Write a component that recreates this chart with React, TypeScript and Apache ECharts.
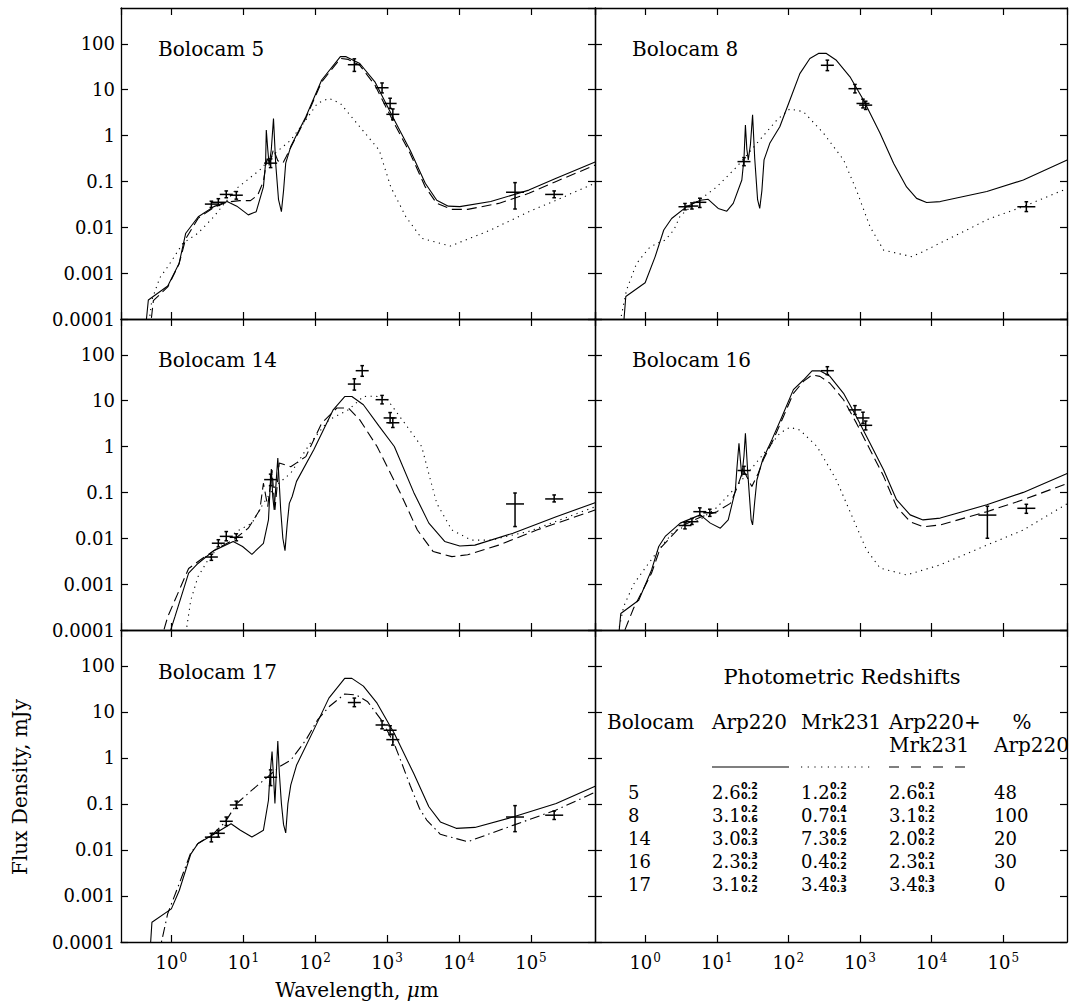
import React, { useEffect, useRef } from "react";
import * as echarts from "echarts";

const SERIF = '"DejaVu Serif", "Liberation Serif", serif';

// Axis ranges (wavelength in µm, flux density in mJy)
const X_MIN = 0.1995; // 10^-0.70
const X_MAX = 776000; // 10^5.89
const Y_MIN = 0.0001;
const Y_MAX = 603; // 10^2.78

const panelNames = ["Bolocam 5", "Bolocam 8", "Bolocam 14", "Bolocam 16", "Bolocam 17"];

// Model curves: [log10 wavelength (µm), log10 flux (mJy)]
const b5Arp = [[-0.365,-4.3],[-0.32,-3.585],[-0.05,-3.28],[0.107,-2.79],[0.2,-2.13],[0.374,-1.77],[0.59,-1.55],[0.775,-1.44],[0.91,-1.54],[1.07,-1.73],[1.18,-1.66],[1.28,-1.12],[1.31,-0.6],[1.32,0.12],[1.34,-0.3],[1.36,-0.65],[1.39,-0.3],[1.42,0.37],[1.45,-0.6],[1.49,-1.4],[1.53,-1.66],[1.56,-1.2],[1.59,-0.6],[1.66,-0.24],[1.87,0.41],[2.09,1.21],[2.35,1.72],[2.43,1.72],[2.62,1.57],[2.83,1.17],[3.1,0.34],[3.32,-0.32],[3.53,-1.04],[3.69,-1.41],[3.85,-1.54],[4.01,-1.55],[4.44,-1.44],[4.97,-1.19],[5.35,-0.93],[5.9,-0.57]];
const b5Mrk = [[-0.33,-4.3],[-0.27,-3.58],[-0.16,-3.1],[-0.05,-2.86],[0.16,-2.35],[0.37,-2.13],[0.59,-1.77],[0.91,-1.15],[1.23,-0.75],[1.44,-0.39],[1.66,-0.1],[1.87,0.34],[2.03,0.7],[2.19,0.81],[2.35,0.7],[2.62,0.19],[2.89,-0.32],[3.05,-1.12],[3.26,-1.77],[3.48,-2.24],[3.88,-2.41],[4.44,-2.06],[4.97,-1.66],[5.35,-1.41],[5.9,-1.03]];
const b5Comb = [[-0.3,-4.3],[-0.25,-3.6],[-0.05,-3.3],[0.107,-2.8],[0.2,-2.25],[0.374,-1.8],[0.59,-1.57],[0.775,-1.45],[0.95,-1.42],[1.1,-1.42],[1.2,-1.3],[1.28,-1.0],[1.33,-0.5],[1.37,-0.6],[1.42,-0.3],[1.48,-0.55],[1.55,-0.6],[1.6,-0.45],[1.66,-0.26],[1.87,0.38],[2.09,1.17],[2.35,1.68],[2.46,1.66],[2.62,1.53],[2.83,1.1],[3.1,0.26],[3.32,-0.39],[3.53,-1.12],[3.69,-1.48],[3.9,-1.61],[4.12,-1.61],[4.55,-1.48],[4.97,-1.26],[5.35,-1.0],[5.9,-0.64]];

const b8Arp = [[-0.31,-4.3],[-0.27,-3.51],[0,-3.21],[0.14,-2.64],[0.26,-2.06],[0.37,-1.81],[0.58,-1.55],[0.77,-1.41],[0.88,-1.39],[1.02,-1.59],[1.14,-1.65],[1.23,-1.48],[1.35,-0.97],[1.38,-0.5],[1.4,0.23],[1.42,-0.3],[1.44,-0.53],[1.47,-0.2],[1.5,0.45],[1.53,-0.5],[1.57,-1.4],[1.6,-1.59],[1.63,-1.2],[1.66,-0.53],[1.74,-0.17],[1.88,0.19],[2.02,0.77],[2.16,1.35],[2.3,1.68],[2.42,1.79],[2.53,1.79],[2.67,1.64],[2.86,1.28],[3.05,0.77],[3.28,0.05],[3.47,-0.61],[3.65,-1.12],[3.79,-1.37],[3.93,-1.46],[4.12,-1.44],[4.77,-1.22],[5.28,-0.97],[5.9,-0.53]];
const b8Mrk = [[-0.38,-4.3],[-0.26,-3.37],[-0.12,-2.79],[0.05,-2.46],[0.16,-2.35],[0.28,-2.28],[0.4,-2.06],[0.49,-1.75],[0.72,-1.45],[1.0,-1.12],[1.28,-0.68],[1.56,-0.17],[1.84,0.34],[2.02,0.58],[2.21,0.52],[2.49,0.05],[2.77,-0.53],[2.95,-1.19],[3.14,-1.99],[3.33,-2.5],[3.72,-2.64],[3.88,-2.53],[4.81,-1.81],[5.28,-1.55],[5.9,-1.15]];

const b14Arp = [[-0.07,-4.3],[0.05,-3.71],[0.24,-2.76],[0.37,-2.55],[0.59,-2.27],[0.86,-2.07],[0.99,-2.18],[1.12,-2.35],[1.28,-2.11],[1.35,-1.6],[1.37,-1.0],[1.39,-0.49],[1.41,-1.1],[1.43,-1.38],[1.46,-0.7],[1.48,-0.25],[1.5,-0.8],[1.52,-1.38],[1.55,-2.0],[1.58,-2.27],[1.61,-1.7],[1.64,-1.24],[1.68,-1.09],[1.74,-0.76],[1.98,-0.07],[2.25,0.8],[2.41,1.09],[2.51,1.09],[2.67,0.91],[2.89,0.44],[3.1,0.0],[3.37,-1.0],[3.58,-1.67],[3.8,-2.07],[4.01,-2.17],[4.22,-2.15],[4.75,-1.89],[5.35,-1.53],[5.9,-1.22]];
const b14Mrk = [[0.18,-4.3],[0.27,-3.35],[0.37,-2.84],[0.51,-2.47],[0.7,-2.11],[0.91,-1.85],[1.12,-1.67],[1.28,-1.24],[1.44,-0.87],[1.66,-0.58],[1.93,0.07],[2.19,0.58],[2.46,0.8],[2.67,1.09],[2.83,1.1],[2.99,1.05],[3.21,0.58],[3.48,0.0],[3.58,-0.6],[3.69,-1.24],[3.9,-1.82],[4.17,-2.04],[4.44,-2.04],[4.97,-1.85],[5.9,-1.31]];
const b14Comb = [[-0.16,-4.3],[-0.05,-3.71],[0.11,-3.13],[0.24,-2.66],[0.43,-2.44],[0.64,-2.22],[0.86,-2.04],[1.07,-1.78],[1.23,-1.38],[1.28,-0.8],[1.34,-1.31],[1.4,-0.51],[1.44,-1.38],[1.5,-0.36],[1.66,-0.44],[1.87,-0.22],[2.09,0.51],[2.3,0.84],[2.46,0.84],[2.62,0.58],[2.86,0.0],[3.18,-1.0],[3.42,-1.82],[3.64,-2.29],[3.9,-2.4],[4.12,-2.36],[4.55,-2.15],[5.08,-1.82],[5.9,-1.38]];

const b16Arp = [[-0.38,-4.3],[-0.34,-3.64],[-0.09,-3.35],[0.09,-2.69],[0.19,-2.18],[0.28,-1.96],[0.49,-1.67],[0.77,-1.49],[0.91,-1.67],[1.05,-1.78],[1.16,-1.6],[1.26,-0.95],[1.28,-0.5],[1.31,0.07],[1.33,-0.3],[1.35,-0.65],[1.38,-0.2],[1.4,0.29],[1.43,-0.5],[1.45,-0.95],[1.48,-1.6],[1.5,-1.71],[1.53,-1.2],[1.56,-0.73],[1.64,-0.29],[1.77,0.15],[1.91,0.65],[2.07,1.24],[2.21,1.45],[2.33,1.65],[2.44,1.65],[2.58,1.53],[2.77,1.16],[2.95,0.65],[3.14,0.07],[3.33,-0.51],[3.51,-1.16],[3.7,-1.49],[3.88,-1.6],[4.12,-1.56],[4.77,-1.27],[5.28,-1.0],[5.9,-0.58]];
const b16Mrk = [[-0.41,-4.3],[-0.3,-3.49],[-0.16,-3.0],[0,-2.65],[0.19,-2.25],[0.4,-1.85],[0.77,-1.59],[1.0,-1.33],[1.23,-0.95],[1.47,-0.51],[1.7,-0.07],[1.88,0.29],[2.02,0.42],[2.16,0.36],[2.4,0.0],[2.67,-0.73],[2.91,-1.6],[3.09,-2.25],[3.28,-2.65],[3.65,-2.8],[4.12,-2.58],[4.77,-2.15],[5.28,-1.82],[5.9,-1.24]];
const b16Comb = [[-0.36,-4.3],[-0.16,-3.52],[0.09,-2.76],[0.21,-2.22],[0.49,-1.75],[0.77,-1.54],[1.0,-1.42],[1.19,-1.24],[1.28,-0.91],[1.37,-0.51],[1.49,-0.87],[1.58,-0.58],[1.65,-0.29],[1.79,0.15],[1.93,0.65],[2.07,1.16],[2.21,1.42],[2.33,1.56],[2.44,1.53],[2.58,1.38],[2.77,1.02],[2.95,0.51],[3.14,-0.07],[3.33,-0.65],[3.51,-1.31],[3.7,-1.64],[3.88,-1.75],[4.12,-1.71],[4.77,-1.42],[5.28,-1.16],[5.9,-0.8]];

const b17Arp = [[-0.3,-4.3],[-0.27,-3.57],[0,-3.28],[0.11,-2.88],[0.27,-2.09],[0.37,-1.86],[0.59,-1.66],[0.83,-1.43],[0.96,-1.57],[1.12,-1.72],[1.28,-1.57],[1.35,-0.92],[1.37,-0.4],[1.4,0.14],[1.42,-0.4],[1.44,-0.99],[1.46,-0.3],[1.48,0.37],[1.5,-0.3],[1.53,-0.99],[1.56,-1.45],[1.59,-1.63],[1.62,-1.0],[1.66,-0.59],[1.74,-0.16],[1.98,0.61],[2.19,1.3],[2.41,1.73],[2.51,1.73],[2.67,1.56],[2.86,1.19],[3.1,0.53],[3.37,-0.34],[3.58,-1.06],[3.74,-1.39],[3.96,-1.53],[4.22,-1.51],[4.76,-1.28],[5.35,-0.99],[5.9,-0.61]];
const b17Comb = [[-0.18,-4.3],[-0.05,-3.38],[0.11,-2.73],[0.27,-2.06],[0.37,-1.86],[0.59,-1.64],[0.75,-1.39],[0.91,-0.99],[1.12,-0.7],[1.34,-0.41],[1.5,-0.19],[1.66,-0.05],[1.87,0.39],[2.03,0.82],[2.19,1.11],[2.41,1.39],[2.57,1.37],[2.73,1.22],[2.94,0.78],[3.1,0.3],[3.2,-0.1],[3.32,-0.6],[3.45,-1.1],[3.55,-1.35],[3.74,-1.66],[4.12,-1.82],[4.76,-1.46],[5.35,-1.13],[5.9,-0.74]];

// Photometry: [wavelength µm, flux mJy, lower, upper]
const b5Pts = [[3.6,0.032,0.027,0.037],[4.5,0.035,0.030,0.042],[5.8,0.052,0.044,0.062],[8.0,0.050,0.041,0.060],[24,0.25,0.20,0.31],[350,35,25,47],[850,11,8.5,14],[1100,5.0,3.9,6.5],[1200,2.9,2.2,3.8],[60000,0.058,0.025,0.094],[210000,0.052,0.044,0.062]];
const b8Pts = [[3.6,0.028,0.024,0.033],[4.5,0.029,0.025,0.034],[5.8,0.035,0.027,0.043],[24,0.27,0.22,0.33],[350,34,26,44],[850,10.5,8.5,13],[1100,5.0,4.0,6.2],[1200,4.6,3.7,5.6],[210000,0.028,0.022,0.036]];
const b14Pts = [[3.6,0.0039,0.0033,0.0045],[4.5,0.0078,0.0065,0.0093],[5.8,0.011,0.0088,0.014],[8.0,0.0105,0.0088,0.0125],[24,0.19,0.14,0.25],[350,23,17,30],[450,45,34,58],[850,10.5,8.5,13],[1100,4.2,3.3,5.5],[1200,3.3,2.6,4.2],[60000,0.056,0.018,0.097],[210000,0.072,0.062,0.088]];
const b16Pts = [[3.6,0.019,0.016,0.022],[4.5,0.023,0.020,0.027],[5.8,0.038,0.031,0.046],[8.0,0.036,0.030,0.043],[24,0.30,0.25,0.37],[350,45,37,55],[850,6.3,5.0,7.8],[1100,4.2,3.2,5.6],[1200,2.9,2.3,3.6],[60000,0.032,0.010,0.050],[210000,0.045,0.035,0.055]];
const b17Pts = [[3.6,0.019,0.015,0.023],[4.5,0.023,0.019,0.027],[5.8,0.042,0.034,0.052],[8.0,0.095,0.080,0.115],[24,0.38,0.25,0.55],[350,16,13,20],[850,5.2,4.3,6.4],[1100,4.0,3.2,5.0],[1200,2.5,1.9,3.3],[60000,0.052,0.025,0.092],[210000,0.057,0.046,0.070]];

// Table
const tblTitle = "Photometric Redshifts";
const tblHead1 = ["Bolocam", "Arp220", "Mrk231", "Arp220+", "%"];
const tblHead2 = ["", "", "", "Mrk231", "Arp220"];
const tblIds = ["5", "8", "14", "16", "17"];
const arpZ = ["2.6", "3.1", "3.0", "2.3", "3.1"];
const arpUp = ["0.2", "0.2", "0.2", "0.3", "0.2"];
const arpLo = ["0.2", "0.6", "0.3", "0.2", "0.2"];
const mrkZ = ["1.2", "0.7", "7.3", "0.4", "3.4"];
const mrkUp = ["0.2", "0.4", "0.6", "0.2", "0.3"];
const mrkLo = ["0.2", "0.1", "0.2", "0.2", "0.3"];
const combZ = ["2.6", "3.1", "2.0", "2.3", "3.4"];
const combUp = ["0.2", "0.2", "0.2", "0.2", "0.3"];
const combLo = ["0.1", "0.2", "0.2", "0.1", "0.3"];
const pctArp = ["48", "100", "20", "30", "0"];

const DASH: Record<string, any> = {
  solid: "solid",
  dotted: [1.2, 4.5],
  dashed: [10, 5],
  dashdot: [10, 4, 1.5, 4],
};

const panels = [
  { curves: [[b5Arp, "solid"], [b5Mrk, "dotted"], [b5Comb, "dashed"]], pts: b5Pts },
  { curves: [[b8Arp, "solid"], [b8Mrk, "dotted"]], pts: b8Pts },
  { curves: [[b14Arp, "solid"], [b14Mrk, "dotted"], [b14Comb, "dashed"]], pts: b14Pts },
  { curves: [[b16Arp, "solid"], [b16Mrk, "dotted"], [b16Comb, "dashed"]], pts: b16Pts },
  { curves: [[b17Arp, "solid"], [b17Comb, "dashdot"]], pts: b17Pts },
];

const toLin = (pts: number[][]) => pts.map(([lx, ly]) => [Math.pow(10, lx), Math.pow(10, ly)]);

const yFmt = (v: number) => {
  const e = Math.round(Math.log10(v));
  if (e >= 0) return String(Math.pow(10, e));
  return "0." + "0".repeat(-e - 1) + "1";
};

function buildOption() {
  const grids = [
    { left: 121, top: 8, width: 474, height: 311 },
    { left: 595, top: 8, width: 472, height: 311 },
    { left: 121, top: 319, width: 474, height: 311 },
    { left: 595, top: 319, width: 472, height: 311 },
    { left: 121, top: 630, width: 474, height: 312 },
    { left: 595, top: 630, width: 472, height: 312 },
  ];
  const axLine = { show: true, onZero: false, lineStyle: { color: "#000", width: 1.3 } };
  const axTick = { show: true, inside: true, length: 7, lineStyle: { color: "#000", width: 1.2 } };
  const xAxis: any[] = [];
  const yAxis: any[] = [];
  grids.forEach((_, i) => {
    const showX = i >= 4;
    const showY = i % 2 === 0;
    ["bottom", "top"].forEach((pos) => {
      xAxis.push({
        type: "log",
        gridIndex: i,
        position: pos,
        min: X_MIN,
        max: X_MAX,
        axisLine: axLine,
        axisTick: axTick,
        splitLine: { show: false },
        minorTick: { show: false },
        axisLabel: {
          show: pos === "bottom" && showX,
          showMinLabel: false,
          showMaxLabel: false,
          margin: 10,
          color: "#000",
          formatter: (v: number) => `{b|10}{s|${Math.round(Math.log10(v))}}`,
          rich: {
            b: { fontSize: 18, fontFamily: SERIF, color: "#000" },
            s: { fontSize: 12, fontFamily: SERIF, color: "#000", padding: [0, 0, 9, 1] },
          },
        },
      });
    });
    ["left", "right"].forEach((pos) => {
      yAxis.push({
        type: "log",
        gridIndex: i,
        position: pos,
        min: Y_MIN,
        max: Y_MAX,
        axisLine: axLine,
        axisTick: axTick,
        splitLine: { show: false },
        minorTick: { show: false },
        axisLabel: {
          show: pos === "left" && showY,
          showMaxLabel: false,
          margin: 6,
          color: "#000",
          fontSize: 18,
          fontFamily: SERIF,
          formatter: yFmt,
        },
      });
    });
  });

  const series: any[] = [];
  panels.forEach((p, i) => {
    p.curves.forEach(([pts, style]: any) => {
      series.push({
        type: "line",
        xAxisIndex: 2 * i,
        yAxisIndex: 2 * i,
        data: toLin(pts),
        showSymbol: false,
        symbol: "none",
        clip: true,
        lineStyle: { color: "#000", width: 1.1, type: DASH[style] },
        silent: true,
      });
    });
    series.push({
      type: "custom",
      xAxisIndex: 2 * i,
      yAxisIndex: 2 * i,
      dimensions: ["lam", "flux", "lo", "hi"],
      encode: { x: 0, y: 1 },
      data: p.pts,
      renderItem: (params: any, api: any) => {
        const lam = api.value(0);
        const c = api.coord([lam, api.value(1)]);
        const pl = api.coord([lam, api.value(2)]);
        const ph = api.coord([lam, api.value(3)]);
        const hw = lam > 30000 ? 9 : 6.5;
        const st = { stroke: "#000", lineWidth: 1.5 };
        return {
          type: "group",
          children: [
            { type: "line", shape: { x1: c[0] - hw, y1: c[1], x2: c[0] + hw, y2: c[1] }, style: st },
            { type: "line", shape: { x1: c[0], y1: pl[1], x2: c[0], y2: ph[1] }, style: st },
            { type: "line", shape: { x1: c[0] - 1.8, y1: pl[1], x2: c[0] + 1.8, y2: pl[1] }, style: st },
            { type: "line", shape: { x1: c[0] - 1.8, y1: ph[1], x2: c[0] + 1.8, y2: ph[1] }, style: st },
          ],
        };
      },
    });
  });

  const txt = (text: string, x: number, y: number, size: number, align = "left", extra: any = {}) => ({
    type: "text",
    x,
    y,
    silent: true,
    style: { text, fill: "#000", fontSize: size, fontFamily: SERIF, align, verticalAlign: "middle", ...extra },
  });

  const graphic: any[] = [];
  const titlePos = [[158, 49], [632, 49], [158, 360], [632, 360], [158, 672]];
  panelNames.forEach((n, i) => graphic.push(txt(n, titlePos[i][0], titlePos[i][1], 20)));

  graphic.push({
    type: "text",
    x: 20,
    y: 787,
    rotation: Math.PI / 2,
    silent: true,
    style: { text: "Flux Density, mJy", fill: "#000", fontSize: 20, fontFamily: SERIF, align: "center", verticalAlign: "middle" },
  });
  graphic.push({
    type: "text",
    x: 357,
    y: 990,
    silent: true,
    style: {
      text: "Wavelength, {i|μ}m",
      fill: "#000",
      fontSize: 20,
      fontFamily: SERIF,
      align: "center",
      verticalAlign: "middle",
      rich: { i: { fontStyle: "italic", fontSize: 20, fontFamily: SERIF, fill: "#000" } },
    },
  });

  // table
  const colX = [607, 712, 801, 889, 994];
  graphic.push(txt(tblTitle, 842, 677, 21, "center"));
  tblHead1.forEach((h, j) => {
    if (j === 4) graphic.push(txt(h, 1022, 722, 20, "center"));
    else graphic.push(txt(h, colX[j], 722, 20));
  });
  tblHead2.forEach((h, j) => {
    if (h) graphic.push(txt(h, colX[j], 745, 20));
  });
  const legY = 767;
  graphic.push({ type: "line", silent: true, shape: { x1: 712, y1: legY, x2: 789, y2: legY }, style: { stroke: "#000", lineWidth: 1.2 } });
  graphic.push({ type: "line", silent: true, shape: { x1: 801, y1: legY, x2: 873, y2: legY }, style: { stroke: "#000", lineWidth: 1.2, lineDash: [1.2, 5.5] } });
  graphic.push({ type: "line", silent: true, shape: { x1: 889, y1: legY, x2: 967, y2: legY }, style: { stroke: "#000", lineWidth: 1.2, lineDash: [10, 12] } });

  const valCols = [
    [arpZ, arpUp, arpLo],
    [mrkZ, mrkUp, mrkLo],
    [combZ, combUp, combLo],
  ];
  const small = { fontFamily: '"DejaVu Sans", sans-serif', fontWeight: "bold" };
  tblIds.forEach((id, r) => {
    const y = 792 + r * 23.2;
    graphic.push(txt(id, 628, y, 18));
    valCols.forEach(([zs, ups, los], k) => {
      const x = colX[k + 1];
      graphic.push(txt(zs[r], x, y, 18));
      graphic.push(txt(ups[r], x + 29, y - 6.5, 9.5, "left", small));
      graphic.push(txt(los[r], x + 29, y + 3.5, 9.5, "left", small));
    });
    graphic.push(txt(pctArp[r], 994, y, 18));
  });

  return {
    animation: false,
    backgroundColor: "#fff",
    grid: grids.map((g) => ({ ...g, containLabel: false })),
    xAxis,
    yAxis,
    series,
    graphic,
  };
}

export default function App() {
  const ref = useRef<HTMLDivElement>(null);
  useEffect(() => {
    if (!ref.current) return;
    const chart = echarts.init(ref.current, undefined, { renderer: "svg" });
    chart.setOption(buildOption() as any);
    return () => chart.dispose();
  }, []);
  return (
    <div
      ref={ref}
      style={{ position: "absolute", left: 0, top: 0, width: 1069, height: 1004, background: "#fff" }}
    />
  );
}
